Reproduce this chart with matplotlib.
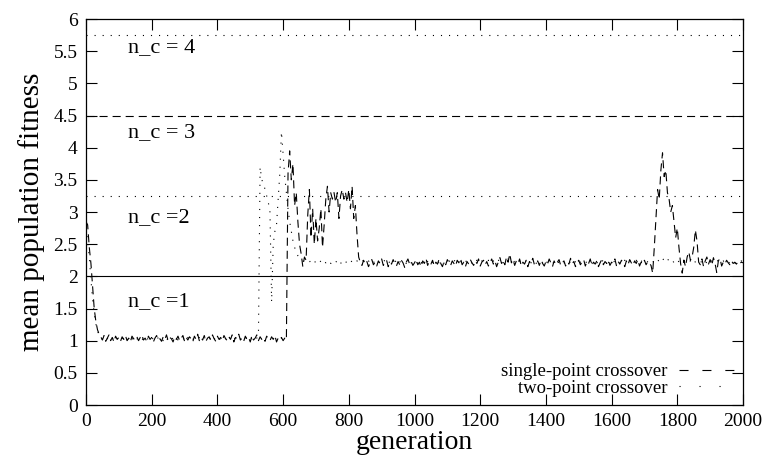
import numpy as np
import matplotlib
matplotlib.use("Agg")
import matplotlib.pyplot as plt
from matplotlib.lines import Line2D

plt.rcParams['font.family'] = 'Liberation Serif'
plt.rcParams['lines.scale_dashes'] = False

## generations sampled every 5 steps
gens = np.arange(0, 2001, 5)

## single-point crossover
sp_start = [2.85, 2.8, 2.45, 2.2, 1.85, 1.5, 1.3, 1.17, 1.1]                      # 0-40
sp_low = [1.06, 1.01, 1.08, 0.99, 1.04, 1.09, 1.0, 1.05, 0.98, 1.07, 1.02,         # 45-610
          1.05, 0.99, 1.06, 1.02, 1.08, 1.0, 1.04, 0.98, 1.07, 1.03, 1.01,
          1.06, 1.0, 1.05, 1.09, 1.01, 1.04, 0.99, 1.07, 1.02, 1.05, 0.98,
          1.04, 1.08, 1.01, 1.03, 0.99, 1.06, 1.02, 1.09, 1.0, 1.05, 1.03,
          0.98, 1.06, 1.02, 1.07, 1.0, 1.04, 1.08, 0.99, 1.05, 1.01, 1.06,
          1.03, 0.98, 1.07, 1.02, 1.1, 1.0, 1.05, 1.01, 1.08, 0.99, 1.04,
          1.06, 1.01, 1.09, 1.03, 0.99, 1.07, 1.02, 1.05, 1.0, 1.08, 1.03,
          1.0, 1.06, 1.02, 1.09, 0.98, 1.05, 1.03, 1.1, 1.01, 1.04, 0.99,
          1.07, 1.02, 1.05, 0.98, 1.08, 1.01, 1.04, 1.09, 1.0, 1.06, 1.02,
          1.05, 0.99, 1.07, 1.03, 1.0, 1.06, 1.02, 1.08, 0.98, 1.04, 1.01,
          1.05, 1.0, 1.04, 1.01]
sp_jump = [3.6, 3.95, 3.5, 3.75, 3.1, 3.3, 2.85, 2.5, 2.35, 2.15,                  # 615-830
           2.3, 2.25, 2.95, 3.35, 2.6, 3.05, 2.5, 2.9, 2.55, 2.75,
           3.05, 2.45, 2.8, 3.2, 3.4, 3.0, 3.3, 3.2, 3.3, 3.15,
           3.3, 2.9, 3.25, 3.35, 3.2, 3.3, 3.15, 3.35, 3.05, 3.4,
           2.9, 3.1, 2.65, 2.3]
sp_mid = [2.22, 2.17, 2.25, 2.19, 2.23, 2.15, 2.21, 2.26, 2.18, 2.22, 2.16,        # 835-1720
          2.24, 2.2, 2.27, 2.17, 2.21, 2.25, 2.15, 2.22, 2.19, 2.26, 2.2,
          2.16, 2.23, 2.18, 2.25, 2.21, 2.14, 2.22, 2.27, 2.19, 2.23, 2.17,
          2.21, 2.26, 2.18, 2.22, 2.15, 2.24, 2.2, 2.28, 2.17, 2.23, 2.19,
          2.25, 2.16, 2.22, 2.19, 2.27, 2.2, 2.15, 2.23, 2.18, 2.26, 2.21,
          2.17, 2.24, 2.2, 2.16, 2.25, 2.21, 2.28, 2.18, 2.22, 2.15, 2.23,
          2.19, 2.26, 2.21, 2.17, 2.24, 2.2, 2.27, 2.16, 2.22, 2.25, 2.18,
          2.23, 2.16, 2.21, 2.27, 2.19, 2.24, 2.15, 2.22, 2.29, 2.2, 2.25,
          2.18, 2.3, 2.22, 2.35, 2.21, 2.26, 2.17, 2.24, 2.2, 2.27, 2.16,
          2.22, 2.19, 2.25, 2.15, 2.23, 2.2, 2.28, 2.18, 2.21, 2.24, 2.17,
          2.25, 2.2, 2.16, 2.23, 2.19, 2.27, 2.21, 2.15, 2.24, 2.18, 2.22,
          2.26, 2.17, 2.21, 2.24, 2.16, 2.22, 2.19, 2.28, 2.2, 2.23, 2.15,
          2.21, 2.25, 2.18, 2.22, 2.26, 2.16, 2.23, 2.2, 2.27, 2.17, 2.22,
          2.19, 2.24, 2.15, 2.21, 2.26, 2.18, 2.23, 2.2, 2.25, 2.17, 2.22,
          2.2, 2.27, 2.16, 2.23, 2.19, 2.25, 2.21, 2.15, 2.24, 2.18, 2.26,
          2.21, 2.17, 2.24, 2.2, 2.26, 2.16, 2.22, 2.19, 2.25, 2.18, 2.23,
          2.2, 2.17]
sp_peak = [2.05, 2.45, 2.9, 3.35, 3.2, 3.65, 3.92, 3.55, 3.65, 3.3,                # 1725-1805
           3.2, 3.0, 3.1, 2.85, 2.6, 2.75, 2.45]
sp_end = [2.2, 2.05, 2.25, 2.15, 2.3, 2.38, 2.25, 2.3, 2.45,                       # 1810-2000
          2.72, 2.55, 2.22, 2.18, 2.27, 2.15, 2.24, 2.3, 2.19, 2.26,
          2.17, 2.29, 2.2, 2.06, 2.24, 2.28, 2.16, 2.22, 2.19, 2.25,
          2.21, 2.18, 2.24, 2.2, 2.22, 2.19, 2.23, 2.2, 2.22, 2.21]

## two-point crossover
tp_start = [2.75, 2.55, 2.3, 1.95, 1.65, 1.42, 1.26, 1.15, 1.09]                   # 0-40
tp_low = [1.04, 1.02, 1.05, 1.01, 1.03, 1.06, 1.02, 1.04, 1.0, 1.05, 1.03, 1.01,   # 45-520
          1.04, 1.02, 1.06, 1.03, 1.0, 1.05, 1.02, 1.04, 1.01, 1.06, 1.03, 1.02,
          1.05, 1.01, 1.04, 1.03, 1.06, 1.0, 1.03, 1.05, 1.02, 1.04, 1.01, 1.05,
          1.02, 1.04, 1.0, 1.06, 1.03, 1.01, 1.05, 1.02, 1.04, 1.03, 1.06, 1.01,
          1.03, 1.05, 1.02, 1.04, 1.0, 1.05, 1.03, 1.06, 1.02, 1.04, 1.01, 1.03,
          1.05, 1.02, 1.04, 1.06, 1.01, 1.03, 1.05, 1.0, 1.04, 1.02, 1.06, 1.03,
          1.01, 1.04, 1.02, 1.05, 1.03, 1.0, 1.06, 1.02, 1.04, 1.01, 1.05, 1.03,
          1.04, 1.02, 1.05, 1.01, 1.03, 1.06, 1.02, 1.04, 1.03, 1.05, 1.01, 1.04]
tp_jump = [1.1, 3.7, 3.5, 3.45, 3.35, 3.25, 3.15, 3.0, 1.6, 2.5,                   # 525-670
           2.7, 2.8, 3.2, 3.6, 4.25, 3.9, 3.55, 3.3, 3.05, 2.85,
           2.7, 2.55, 2.45, 2.38, 2.32, 2.28, 2.25, 2.24, 2.22, 2.23]
tp_rest = [2.22, 2.24, 2.21, 2.23, 2.2, 2.25, 2.22, 2.21, 2.24, 2.2,               # 675-2000
           2.23, 2.21, 2.25, 2.22, 2.2, 2.24, 2.23, 2.21, 2.26, 2.22,
           2.2, 2.23, 2.25, 2.21, 2.24, 2.22, 2.2, 2.25, 2.23, 2.21,
           2.24, 2.22, 2.2, 2.23, 2.25, 2.21, 2.22, 2.24, 2.2, 2.23,
           2.21, 2.25, 2.22, 2.2, 2.24, 2.23, 2.21, 2.26, 2.22, 2.2,
           2.23, 2.24, 2.21, 2.22, 2.25, 2.2, 2.23, 2.21, 2.24, 2.22,
           2.2, 2.25, 2.23, 2.21, 2.22, 2.24, 2.2, 2.23, 2.26, 2.21,
           2.22, 2.2, 2.24, 2.23, 2.21, 2.25, 2.22, 2.2, 2.23, 2.24,
           2.21, 2.22, 2.25, 2.2, 2.23, 2.21, 2.24, 2.22, 2.2, 2.25,
           2.23, 2.21, 2.22, 2.24, 2.2, 2.23, 2.25, 2.21, 2.22, 2.24,
           2.2, 2.23, 2.21, 2.25, 2.22, 2.2, 2.24, 2.23, 2.21, 2.22,
           2.25, 2.2, 2.23, 2.24, 2.21, 2.22, 2.26, 2.2, 2.23, 2.21,
           2.24, 2.22, 2.27, 2.25, 2.23, 2.21, 2.24, 2.22, 2.2, 2.23,
           2.25, 2.21, 2.22, 2.24, 2.2, 2.23, 2.21, 2.25, 2.22, 2.2,
           2.24, 2.23, 2.21, 2.22, 2.25, 2.2, 2.23, 2.24, 2.21, 2.22,
           2.2, 2.25, 2.23, 2.21, 2.24, 2.22, 2.2, 2.23, 2.25, 2.21,
           2.22, 2.24, 2.2, 2.23, 2.21, 2.25, 2.22, 2.2, 2.24, 2.23,
           2.21, 2.22, 2.25, 2.2, 2.23, 2.24, 2.21, 2.22, 2.2, 2.25,
           2.23, 2.21, 2.24, 2.22, 2.2, 2.23, 2.25, 2.21, 2.22, 2.24,
           2.2, 2.23, 2.21, 2.25, 2.22, 2.2, 2.24, 2.23, 2.21, 2.22,
           2.25, 2.2, 2.23, 2.24, 2.21, 2.22, 2.2, 2.23, 2.25, 2.21,
           2.22, 2.24, 2.2, 2.23, 2.26, 2.22, 2.25, 2.28, 2.31, 2.27,
           2.24, 2.22, 2.25, 2.21, 2.23, 2.2, 2.24, 2.22, 2.21, 2.25,
           2.23, 2.2, 2.22, 2.24, 2.21, 2.25, 2.22, 2.2, 2.23, 2.24,
           2.21, 2.22, 2.25, 2.2, 2.23, 2.21, 2.24, 2.22, 2.2, 2.23,
           2.25, 2.21, 2.22, 2.24, 2.2, 2.23, 2.22, 2.21, 2.24, 2.22,
           2.2, 2.23, 2.22, 2.21, 2.24, 2.22]

single_point = sp_start + sp_low + sp_jump + sp_mid + sp_peak + sp_end
two_point = tp_start + tp_low + tp_jump + tp_rest

## niche boundaries and their labels
bound_levels = [2.0, 3.25, 4.5, 5.75]
region_labels = ['n_c =1', 'n_c =2', 'n_c = 3', 'n_c = 4']
region_y = [1.6, 2.92, 4.23, 5.55]
label_gen = 128

xticks = np.arange(0, 2001, 200)
yticks = [0, 0.5, 1, 1.5, 2, 2.5, 3, 3.5, 4, 4.5, 5, 5.5, 6]
ytick_labels = ['0', '0.5', '1', '1.5', '2', '2.5', '3', '3.5', '4', '4.5', '5', '5.5', '6']

## dash patterns in points
dashed = (0, (5.8, 3.6))
dotted = (0, (0.8, 5.0))

fig = plt.figure(figsize=(7.65, 4.55), dpi=100)
ax = fig.add_axes([86/765, 50/455, 657/765, 386/455])

ax.plot(gens, single_point, color='k', lw=0.8, linestyle=dashed)
ax.plot(gens, two_point, color='k', lw=0.8, linestyle=dotted)

## boundary lines between the niches
bound_styles = ['-', dotted, dashed, dotted]
for lev, st in zip(bound_levels, bound_styles):
    ax.axhline(lev, color='k', lw=0.8, linestyle=st)

for lab, yy in zip(region_labels, region_y):
    ax.text(label_gen, yy, lab, fontsize=16, va='center', ha='left')

ax.set_xlim(0, 2000)
ax.set_ylim(0, 6)
ax.set_xticks(xticks)
ax.set_yticks(yticks)
ax.set_yticklabels(ytick_labels)
ax.tick_params(direction='in', top=True, right=True, length=8, width=0.8,
               labelsize=14, pad=6)
for sp in ax.spines.values():
    sp.set_linewidth(0.9)

ax.set_xlabel('generation', fontsize=20, labelpad=0)
ax.set_ylabel('mean population fitness', fontsize=21, labelpad=6)

## legend: text first, line sample on the right
handles = [Line2D([], [], color='k', lw=0.8, linestyle=(0, (6.5, 10))),
           Line2D([], [], color='k', lw=0.8, linestyle=(0, (0.8, 13.6)))]
ax.legend(handles, ['single-point crossover', 'two-point crossover'],
          loc='lower right', bbox_to_anchor=(1.008, -0.012), frameon=False,
          markerfirst=False, fontsize=13.5, handlelength=3.0, handletextpad=0.6,
          labelspacing=-0.05, borderpad=0.2)

fig.savefig('out.png', dpi=100)
